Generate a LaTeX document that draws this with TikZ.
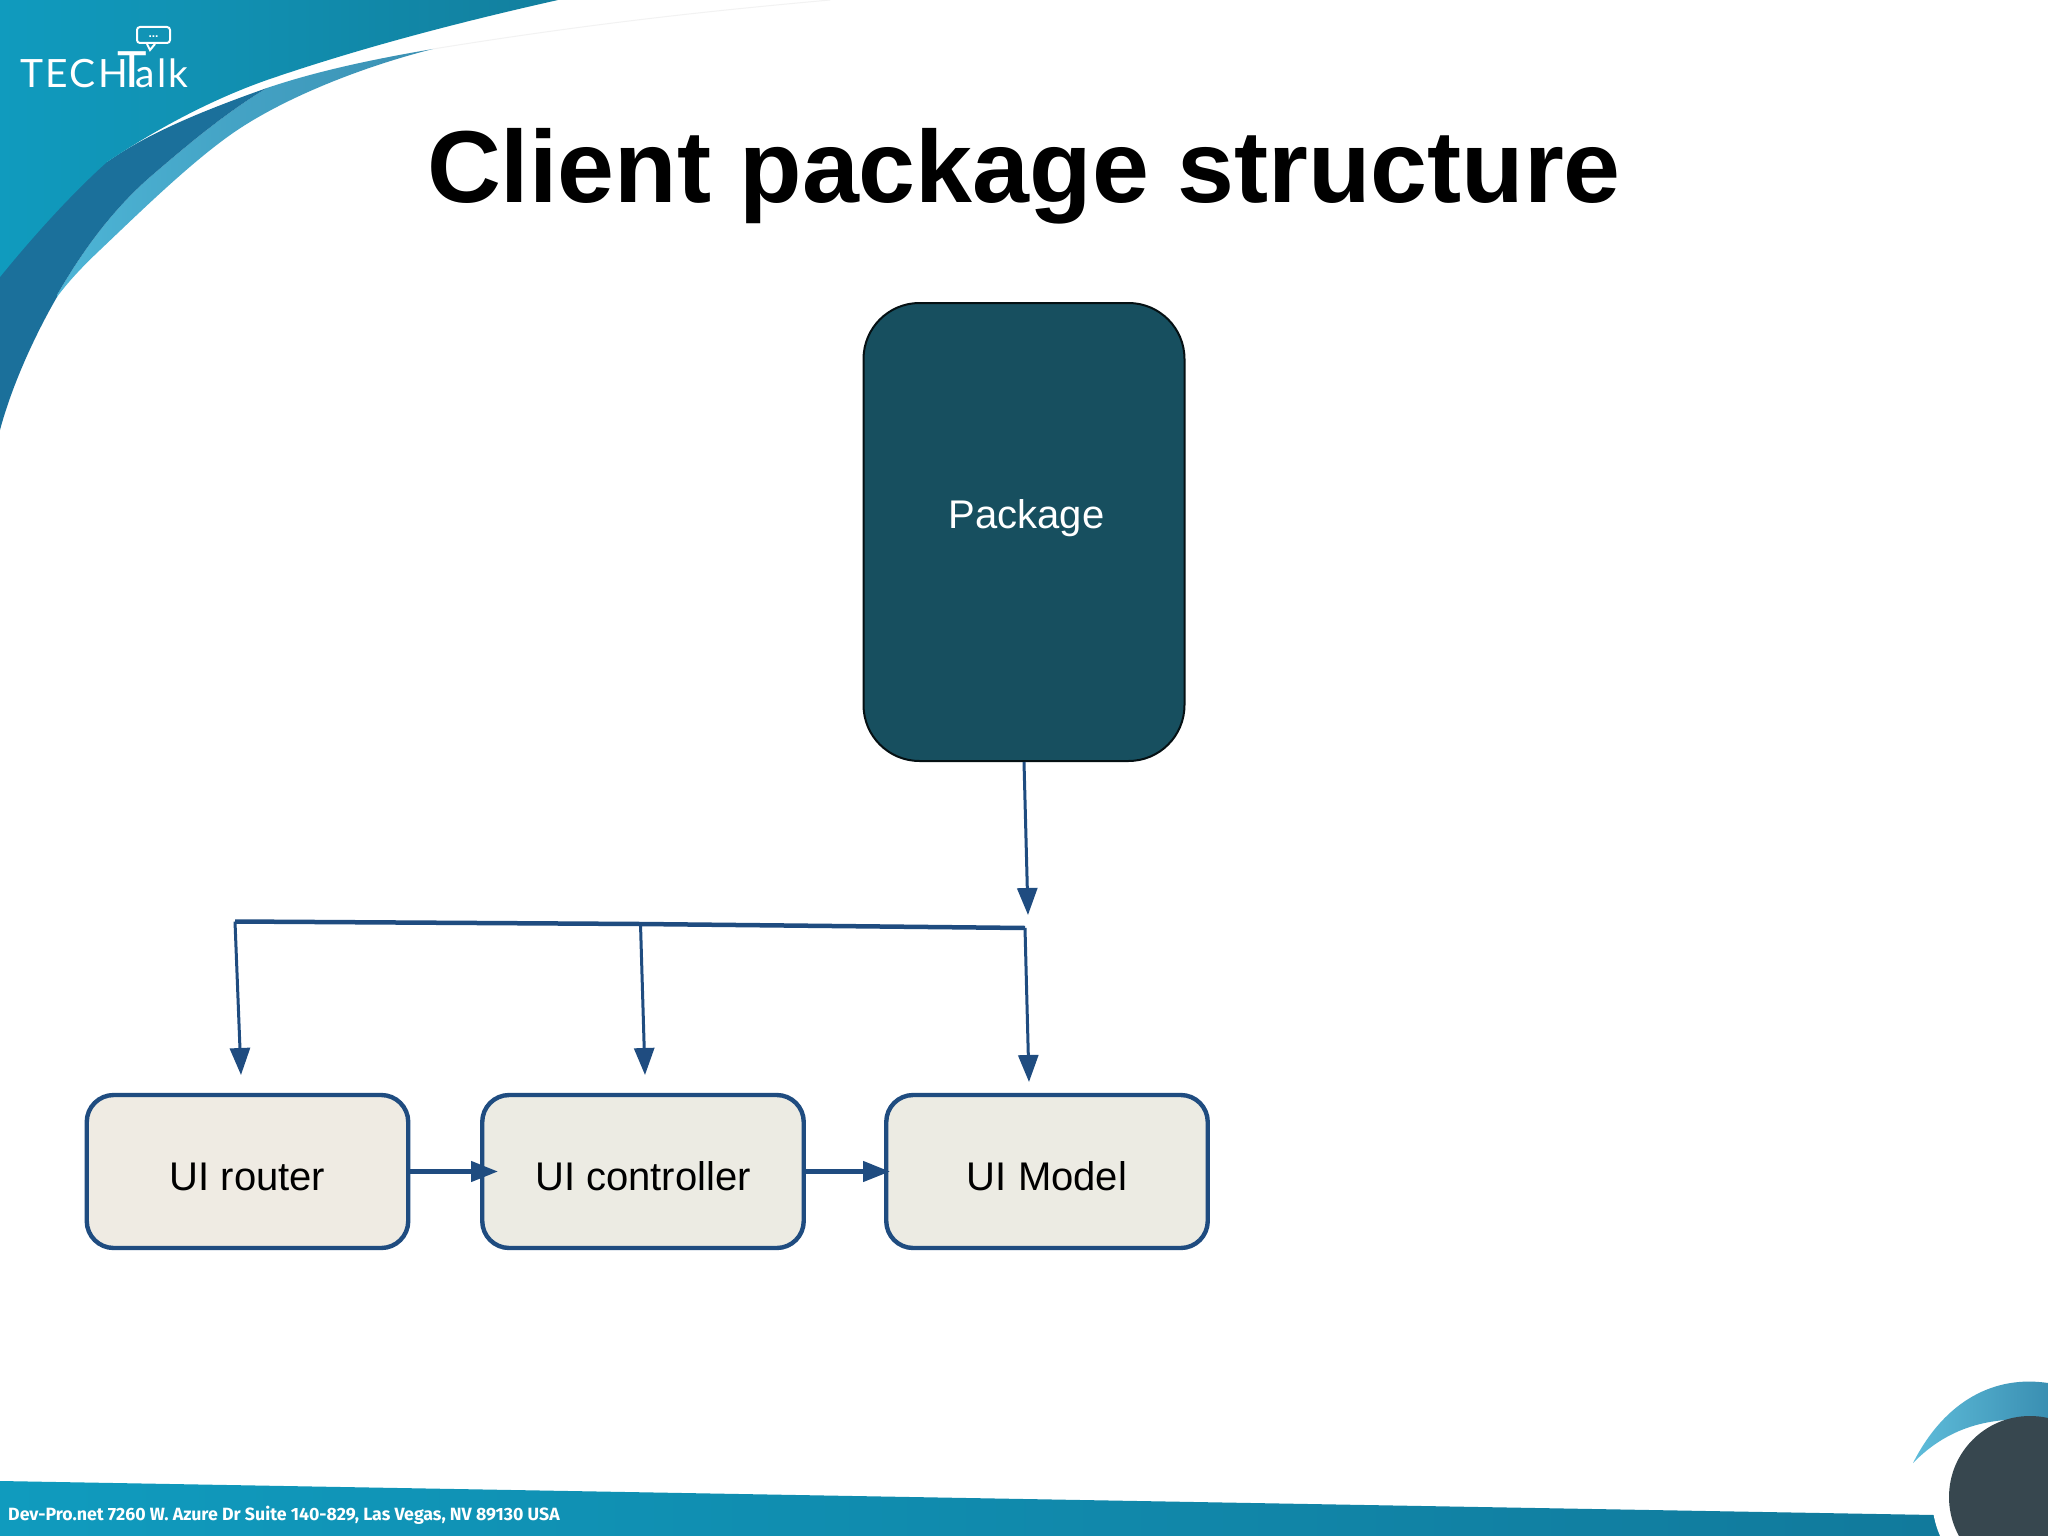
\documentclass[tikz,border=0pt]{standalone}
\usepackage{fontspec}
\setmainfont{Liberation Sans}
\newfontfamily\logofont[LetterSpace=6]{Lato}
\newfontfamily\footfont{Fira Sans}
\usetikzlibrary{arrows.meta}
\definecolor{linkblue}{HTML}{1F4C80}
\definecolor{boxsand}{HTML}{ECEBE3}
\definecolor{boxrose}{HTML}{EFEBE3}
\definecolor{pkgteal}{HTML}{174F5F}
\definecolor{tealleft}{HTML}{109BBE}
\definecolor{tealright}{HTML}{127F9E}
\definecolor{footright}{HTML}{11789A}
\definecolor{banddark}{HTML}{1B709B}
\definecolor{bandlow}{HTML}{4DB5D6}
\definecolor{bandhigh}{HTML}{3A8FB2}
\definecolor{puckdark}{HTML}{37474F}
\tikzset{
 uibox/.style={draw=linkblue,line width=4.4pt,rounded corners=27pt,minimum width=321.5pt,minimum height=153pt,inner sep=0pt,text height=38pt,text depth=0pt,font=\fontsize{40}{40}\selectfont},
 link/.style={draw=linkblue,line width=3pt,-{Triangle[length=27pt,width=20pt]}},
 plainlink/.style={draw=linkblue,line width=4.5pt}
}
\begin{document}
\begin{tikzpicture}[x=1pt,y=-1pt]
 \useasboundingbox (0,0) rectangle (2048,1536);
 \fill[white] (0,0) rectangle (2048,1536);
 \begin{scope}
 \clip (0,0) rectangle (2048,1536);
 \draw[black!5,line width=1pt] (433,49) .. controls (600,22) and (720,10) .. (830,0);
 \shade[left color=bandlow,right color=bandhigh] (433,49) .. controls (365,66) and (285,97) .. (233,133) .. controls (190,163) and (140,212) .. (100,250) .. controls (82,267) and (68,282) .. (57,297) -- (57,295) .. controls (80,255) and (110,212) .. (150,177) .. controls (185,147) and (225,113) .. (267,88) .. controls (320,70) and (380,58) .. (433,49) -- cycle;
 \fill[banddark] (107,162) .. controls (150,132) and (205,110) .. (267,88) .. controls (225,113) and (185,147) .. (150,177) .. controls (110,212) and (80,255) .. (57,295) -- (57,297) .. controls (35,335) and (12,385) .. (0,430) -- (0,150) -- cycle;
 \shade[left color=tealleft,right color=tealright] (0,0) -- (558,0) .. controls (460,22) and (360,48) .. (267,80) .. controls (210,100) and (155,130) .. (107,162) .. controls (70,195) and (30,240) .. (0,277) -- cycle;
 \shade[left color=tealleft,right color=footright] (0,1481) -- (2048,1517) -- (2048,1536) -- (0,1536) -- cycle;
 \fill[white] (2030,1497) circle[radius=98];
 \shade[left color=bandlow!90!white,right color=bandhigh] (1913,1463) .. controls (1945,1400) and (1995,1375) .. (2048,1383) -- (2048,1421) .. controls (1995,1415) and (1950,1425) .. (1913,1463) -- cycle;
 \fill[puckdark] (2030,1497) circle[radius=81];
 \end{scope}
 % logo
 \node[anchor=base west,inner sep=0pt,text=white,font=\logofont\fontsize{39}{39}\selectfont] (logo) at (20,88) {TECH\hspace{-10pt}{\fontsize{50}{50}\selectfont T}\hspace{-12pt}alk};
 \node[draw=white,line width=2pt,rounded corners=3pt,minimum width=33pt,minimum height=16pt,inner sep=0pt,text=white,text height=6pt,text depth=0pt,font=\fontsize{12}{12}\selectfont\bfseries] (bubble) at (153.5,35) {...};
 \draw[white,line width=2pt] (147,44) -- (150,50) -- (155,44);
 % title and footer
 \node[anchor=base,inner sep=0pt,font=\fontsize{102.3}{102.3}\selectfont\bfseries] (title) at (1024,202) {Client package structure};
 \node[anchor=base west,inner sep=0pt,text=white,font=\footfont\bfseries\fontsize{17.75}{17.75}\selectfont] (footer) at (8,1520) {Dev-Pro.net 7260 W. Azure Dr Suite 140-829, Las Vegas, NV 89130 USA};
 % boxes
 \node[draw=black!80!pkgteal,fill=pkgteal,line width=2pt,rounded corners=56pt,minimum width=321pt,minimum height=458pt,inner sep=0pt,text=white,text height=29pt,text depth=37pt,font=\fontsize{40}{40}\selectfont] (package) at (1024,532) {\hspace*{5pt}Package};
 \node[uibox,fill=boxrose] (router) at (247.5,1171.5) {UI router};
 \node[uibox,fill=boxsand] (controller) at (643,1171.5) {UI controller};
 \node[uibox,fill=boxsand] (model) at (1047,1171.5) {UI Model};
 % connectors
 \coordinate (pkgend) at (1028,915);
 \coordinate (busleft) at (235,921.5);
 \coordinate (busmid) at (640.5,924);
 \coordinate (busright) at (1025,928);
 \coordinate (routertop) at (241,1075);
 \coordinate (controllertop) at (645,1075);
 \coordinate (modeltop) at (1029,1082);
 \coordinate (controllerin) at (498,1171.5);
 \coordinate (modelin) at (890,1171.5);
 \draw[link] (package.south) -- (pkgend);
 \draw[plainlink] (busleft) -- (busmid) -- (busright);
 \foreach \from/\to in {busleft/routertop,busmid/controllertop,busright/modeltop}{%
   \draw[link] (\from) -- (\to);
 }
 \draw[link,line width=4.5pt] (router.east) -- (controllerin);
 \draw[link,line width=4.5pt] (controller.east) -- (modelin);
\end{tikzpicture}
\end{document}
